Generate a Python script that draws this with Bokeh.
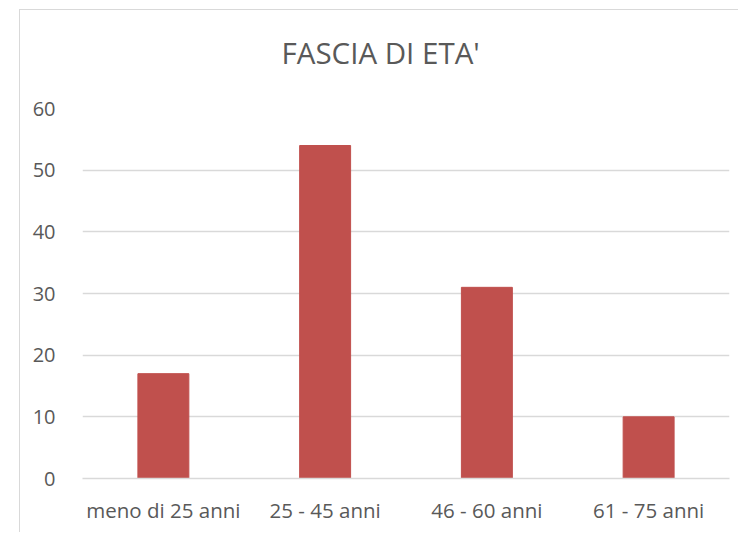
from bokeh.plotting import figure
from bokeh.models import Range1d, SingleIntervalTicker, Title
from bokeh.embed import file_html
from bokeh.resources import INLINE

categories = ["meno di 25 anni", "25 - 45 anni", "46 - 60 anni", "61 - 75 anni"]
values = [17, 54, 31, 10]
title_text = "FASCIA DI ETA'"

FONT = "Open Sans"
GRAY = "#595959"
GRID = "#D9D9D9"

p = figure(
    x_range=categories,
    y_range=Range1d(0, 60),
    width=719,
    height=523,
    output_backend="svg",
    toolbar_location=None,
    min_border_left=62,
    min_border_right=10,
    min_border_top=98,
    min_border_bottom=55,
)
p.margin = (9, 0, 0, 19)
p.styles = {"border-left": "1.5px solid #D9D9D9", "border-top": "1.5px solid #D9D9D9"}

p.vbar(x=categories, top=values, width=0.315, color="#C0504D")

# blank spacer between the plot area and the chart title
spacer = Title(text=" ", text_font=FONT, text_font_size="10px", standoff=20)
p.add_layout(spacer, "above")
main_title = Title(
    text=title_text, align="left", offset=199, standoff=0,
    text_font=FONT, text_font_size="29.5px", text_font_style="normal", text_color=GRAY,
)
p.add_layout(main_title, "above")

p.outline_line_color = None
p.background_fill_color = "white"
p.border_fill_color = "white"

p.xgrid.grid_line_color = None
p.ygrid.grid_line_color = GRID
p.ygrid.grid_line_width = 1.5

p.yaxis.ticker = SingleIntervalTicker(interval=10)
p.yaxis.axis_line_color = None
p.yaxis.major_tick_line_color = None
p.yaxis.minor_tick_line_color = None
p.yaxis.major_label_standoff = 21
p.yaxis.major_label_text_font = FONT
p.yaxis.major_label_text_font_size = "20px"
p.yaxis.major_label_text_color = GRAY

p.xaxis.axis_line_color = GRID
p.xaxis.axis_line_width = 1.5
p.xaxis.major_tick_line_color = None
p.xaxis.minor_tick_line_color = None
p.xaxis.major_label_standoff = 11
p.xaxis.major_label_text_font = FONT
p.xaxis.major_label_text_font_size = "20.5px"
p.xaxis.major_label_text_color = GRAY

open("out.html", "w").write(file_html(p, INLINE))
